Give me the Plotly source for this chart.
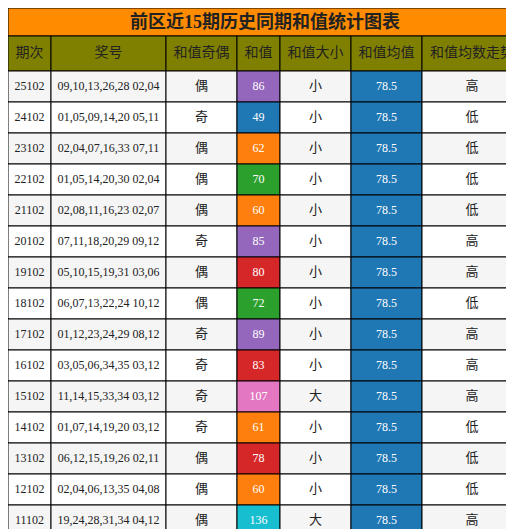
import plotly.graph_objects as go

periods = ["25102","24102","23102","22102","21102","20102","19102","18102","17102","16102","15102","14102","13102","12102","11102"]
numbers = ["09,10,13,26,28 02,04","01,05,09,14,20 05,11","02,04,07,16,33 07,11","01,05,14,20,30 02,04","02,08,11,16,23 02,07",
           "07,11,18,20,29 09,12","05,10,15,19,31 03,06","06,07,13,22,24 10,12","01,12,23,24,29 08,12","03,05,06,34,35 03,12",
           "11,14,15,33,34 03,12","01,07,14,19,20 03,12","06,12,15,19,26 02,11","02,04,06,13,35 04,08","19,24,28,31,34 04,12"]
parity = ["偶","奇","偶","偶","偶","奇","偶","偶","奇","奇","奇","奇","偶","偶","偶"]
sums = [86,49,62,70,60,85,80,72,89,83,107,61,78,60,136]
size = ["小","小","小","小","小","小","小","小","小","小","大","小","小","小","大"]
avg = [78.5]*15
trend = ["高","低","低","低","低","高","高","低","高","高","高","低","低","低","高"]
headers = ["期次","奖号","和值奇偶","和值","和值大小","和值均值","和值均数走势"]
sum_colors = ["#9467bd","#1f77b4","#ff7f0e","#2ca02c","#ff7f0e","#9467bd","#d62728","#2ca02c","#9467bd","#d62728",
              "#e377c2","#ff7f0e","#d62728","#ff7f0e","#17becf"]
title = "前区近15期历史同期和值统计图表"

col_w = [43,115,71,43,71,71,100]
title_h, head_h, row_h = 28, 35, 31
W, H = 514, 529
n = len(periods)
edges = [0]
for w in col_w:
    edges.append(edges[-1] + w)
centers = [(edges[i] + edges[i+1]) / 2 for i in range(len(col_w))]
cols = [periods, numbers, parity, [str(s) for s in sums], size, [str(a) for a in avg], trend]
serif = "Liberation Serif"
cjk = "Noto Sans CJK SC"
col_fonts = [serif, serif, cjk, serif, cjk, serif, cjk]
col_colors = ["#222222","#222222","#222222","#ffffff","#222222","#ffffff","#222222"]

fig = go.Figure()
shapes = []
line = dict(color="black", width=1)
shapes.append(dict(type="rect", x0=0, x1=W, y0=0, y1=title_h, fillcolor="#ff8c00", line=line, layer="below"))
for j in range(len(col_w)):
    shapes.append(dict(type="rect", x0=edges[j], x1=edges[j+1], y0=title_h, y1=title_h+head_h,
                       fillcolor="#808000", line=line, layer="below"))
for i in range(n):
    y0 = title_h + head_h + i*row_h
    base = "#f5f5f5" if i % 2 == 0 else "#ffffff"
    for j in range(len(col_w)):
        fill = sum_colors[i] if j == 3 else ("#1f77b4" if j == 5 else base)
        shapes.append(dict(type="rect", x0=edges[j], x1=edges[j+1], y0=y0, y1=y0+row_h,
                           fillcolor=fill, line=line, layer="below"))

fig.add_trace(go.Scatter(x=[W/2], y=[title_h/2+1], mode="text", text=[f"<b>{title}</b>"],
                         textfont=dict(family=serif + ", " + cjk, size=18, color="#222222"), hoverinfo="skip"))
fig.add_trace(go.Scatter(x=centers, y=[title_h + head_h/2]*len(centers), mode="text", text=headers,
                         textfont=dict(family=cjk, size=14, color="#222222"), hoverinfo="skip"))
ys = [title_h + head_h + (i+0.5)*row_h for i in range(n)]
for j, vals in enumerate(cols):
    fig.add_trace(go.Scatter(x=[centers[j]]*n, y=ys, mode="text", text=vals,
                             textfont=dict(family=col_fonts[j], size=12 if col_fonts[j] == serif else 13, color=col_colors[j]),
                             hoverinfo="skip"))

fig.update_layout(width=W, height=H, margin=dict(l=0, r=0, t=0, b=0), paper_bgcolor="white", plot_bgcolor="white",
                  showlegend=False, shapes=shapes,
                  xaxis=dict(range=[0, W], visible=False, fixedrange=True),
                  yaxis=dict(range=[H, 0], visible=False, fixedrange=True))
fig.write_html("out.html")
